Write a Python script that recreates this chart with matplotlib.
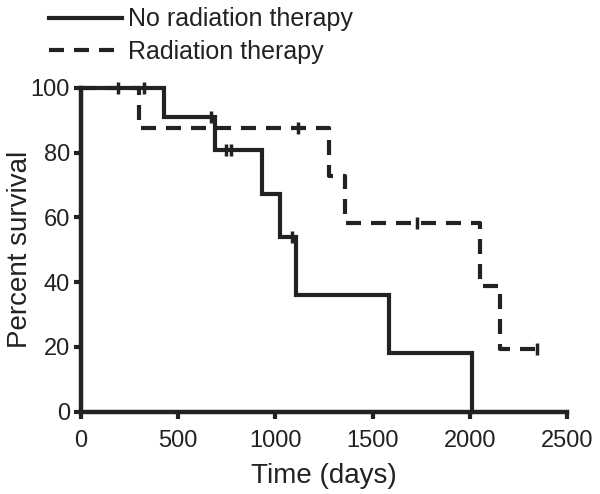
import matplotlib
matplotlib.use("Agg")
import matplotlib.pyplot as plt

# Kaplan-Meier curves
no_rad_t = [0, 425, 688, 933, 1023, 1105, 1586, 2012]
no_rad_s = [100, 90.9, 80.8, 67.3, 53.9, 35.9, 18.0, 0]
no_rad_cens_t = [190, 324, 671, 745, 770, 1083]
no_rad_cens_s = [100, 100, 90.9, 80.8, 80.8, 53.9]

rad_t = [0, 298, 1278, 1357, 2052, 2155, 2344]
rad_s = [100, 87.5, 72.9, 58.3, 38.9, 19.4, 19.4]
rad_cens_t = [1116, 1726, 2344]
rad_cens_s = [87.5, 58.3, 19.4]

x_ticks = [0, 500, 1000, 1500, 2000, 2500]
y_ticks = [0, 20, 40, 60, 80, 100]

ink = "#222222"
plt.rcParams['font.family'] = ['Liberation Sans', 'DejaVu Sans']

fig = plt.figure(figsize=(6.0, 4.94), dpi=100)
ax = fig.add_axes([0.135, 0.167, 0.81, 0.655])

l1, = ax.step(no_rad_t, no_rad_s, where='post', color=ink, lw=3.0,
              clip_on=False, solid_joinstyle='miter', label='No radiation therapy')
ax.plot(no_rad_cens_t, no_rad_cens_s, ls='none', marker='|', ms=9, mew=2.5,
        color=ink, clip_on=False)

l2, = ax.step(rad_t, rad_s, where='post', color=ink, lw=3.0, dashes=(3.6, 2.4),
              clip_on=False, label='Radiation therapy')
ax.plot(rad_cens_t, rad_cens_s, ls='none', marker='|', ms=9, mew=2.5,
        color=ink, clip_on=False)

ax.set_xlim(0, 2500)
ax.set_ylim(0, 100)
ax.set_xticks(x_ticks)
ax.set_yticks(y_ticks)
ax.tick_params(direction='out', length=5, width=3, colors=ink, labelsize=17)
ax.tick_params(axis='x', pad=8)
ax.tick_params(axis='y', pad=3)

for s in ['top', 'right']:
    ax.spines[s].set_visible(False)
for s in ['left', 'bottom']:
    ax.spines[s].set_linewidth(3.2)
    ax.spines[s].set_color(ink)

ax.set_xlabel('Time (days)', fontsize=20, color=ink, labelpad=8)
ax.set_ylabel('Percent survival', fontsize=20, color=ink)
ax.yaxis.set_label_coords(-0.099, 0.5)

fig.legend(handles=[l1, l2], loc='upper left', bbox_to_anchor=(0.078, 0.99),
           frameon=False, fontsize=18, handlelength=2.9, handletextpad=0.25,
           labelspacing=0.35, borderpad=0.1, borderaxespad=0.0,
           labelcolor=ink)

fig.savefig('out.png', dpi=100)
